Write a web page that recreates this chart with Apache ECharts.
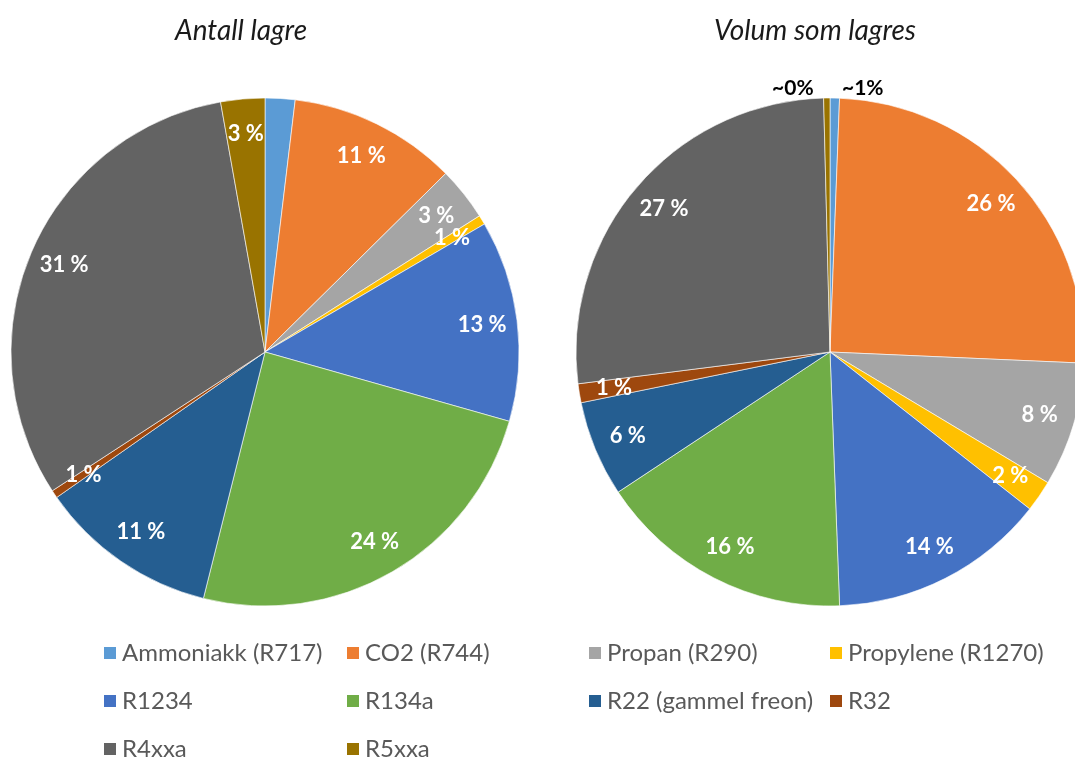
<!DOCTYPE html>
<html>
<head>
<meta charset="utf-8">
<script src="https://cdn.jsdelivr.net/npm/echarts@6/dist/echarts.min.js"></script>
<style>
html,body{margin:0;padding:0;background:#fff;}
#chart{width:1075px;height:760px;}
</style>
</head>
<body>
<div id="chart"></div>
<script>
// ---- data ----
const categories = ['Ammoniakk (R717)', 'CO2 (R744)', 'Propan (R290)', 'Propylene (R1270)',
  'R1234', 'R134a', 'R22 (gammel freon)', 'R32', 'R4xxa', 'R5xxa'];
const antallValues = [1.9, 10.7, 3.4, 0.6, 12.8, 24.5, 11.4, 0.5, 31.4, 2.8];
const antallLabels = ['2 %', '11 %', '3 %', '1 %', '13 %', '24 %', '11 %', '1 %', '31 %', '3 %'];
const volumValues = [0.6, 25.1, 7.9, 2.0, 13.8, 16.3, 6.1, 1.2, 26.6, 0.4];
const volumLabels = ['~1%', '26 %', '8 %', '2 %', '14 %', '16 %', '6 %', '1 %', '27 %', '~0%'];
const titles = ['Antall lagre', 'Volum som lagres'];

// ---- style ----
const colors = ['#5B9BD5', '#ED7D31', '#A5A5A5', '#FFC000', '#4472C4', '#70AD47', '#255E91', '#9E480E', '#636363', '#997300'];
const FONT = 'Lato, "Open Sans", sans-serif';
const R = 254;
const centers = [[265, 352], [830, 352]];
const legendColX = [102, 345, 587, 828];
const legendRowY = [653, 701, 749];

const chart = echarts.init(document.getElementById('chart'), null, {renderer: 'canvas'});

function visibleSeries(values, center) {
  return {
    type: 'pie', radius: R, center: center, startAngle: 90, clockwise: true,
    avoidLabelOverlap: false, silent: true,
    label: {show: false}, labelLine: {show: false},
    itemStyle: {borderColor: '#fff', borderWidth: 0.6},
    emphasis: {disabled: true},
    data: categories.map((c, i) => ({name: c, value: values[i], itemStyle: {color: colors[i]}}))
  };
}

function labelSeries(values, labels, center, outsideMap) {
  return {
    type: 'pie', radius: [R * 0.7, R], center: center, startAngle: 90, clockwise: true,
    avoidLabelOverlap: false, silent: true,
    itemStyle: {color: 'rgba(0,0,0,0)', borderWidth: 0},
    emphasis: {disabled: true},
    label: {show: true, position: 'inside', color: '#fff', fontWeight: 'bold', fontSize: 22, fontFamily: FONT,
      formatter: p => labels[p.dataIndex]},
    labelLine: {show: false},
    data: categories.map((c, i) => {
      const d = {name: c, value: values[i]};
      if (outsideMap && (i in outsideMap)) {
        d.label = {position: 'outside', color: '#000', fontSize: 21, fontWeight: 'bold'};
        d.labelLine = {show: false, length: 10, length2: outsideMap[i]};
      }
      return d;
    })
  };
}

const legends = categories.map((c, i) => ({
  data: [c], orient: 'horizontal',
  left: legendColX[i % 4], top: legendRowY[Math.floor(i / 4)] - 13,
  icon: 'rect', itemWidth: 14, itemHeight: 14, padding: 0,
  selectedMode: false,
  textStyle: {color: '#595959', fontSize: 24, fontFamily: FONT, lineHeight: 26}
}));

chart.setOption({
  animation: false,
  backgroundColor: '#fff',
  title: [
    {text: titles[0], left: 236, top: 12, textAlign: 'center',
      textStyle: {fontStyle: 'italic', fontWeight: 'normal', fontSize: 28, color: '#1a1a1a', fontFamily: FONT}},
    {text: titles[1], left: 810, top: 12, textAlign: 'center',
      textStyle: {fontStyle: 'italic', fontWeight: 'normal', fontSize: 28, color: '#1a1a1a', fontFamily: FONT}}
  ],
  legend: legends,
  series: [
    visibleSeries(antallValues, centers[0]),
    visibleSeries(volumValues, centers[1]),
    labelSeries(antallValues, antallLabels, centers[0], null),
    labelSeries(volumValues, volumLabels, centers[1], {0: 2, 9: 8})
  ]
});
</script>
</body>
</html>
